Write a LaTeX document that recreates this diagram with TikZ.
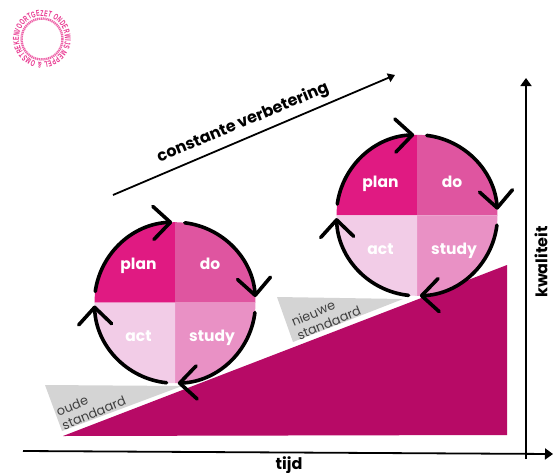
\documentclass[tikz,border=0pt]{standalone}
\usepackage{fontspec}
\setmainfont{Poppins}
\newfontfamily\logofont[FakeStretch=0.62]{Liberation Sans}
\usetikzlibrary{arrows.meta,decorations.text}
\definecolor{planc}{HTML}{E01A82}
\definecolor{doc}{HTML}{DF55A0}
\definecolor{studyc}{HTML}{E991C5}
\definecolor{actc}{HTML}{F2CCE7}
\definecolor{wedgec}{HTML}{B70A66}
\definecolor{greyc}{HTML}{D4D4D4}
\definecolor{logoc}{HTML}{E8308C}
\tikzset{
  x=1pt,y=-1pt,
  cyclearc/.style={line width=3.6pt,line cap=round,line join=round,-{Straight Barb[length=17pt,width=33pt,line width=3.6pt,round]}},
  qlabel/.style={text=white,font=\fontsize{15.5}{16}\selectfont\bfseries,inner sep=0pt},
  axisline/.style={line width=1.8pt,-{Triangle[length=8pt,width=11pt]}},
  stdlabel/.style={text=black!75,font=\fontsize{12.8}{15}\selectfont,align=left,inner sep=0pt,rotate=22.5},
  boldlabel/.style={text=black,font=\fontsize{16}{16}\selectfont\bfseries,inner sep=0pt},
}
% #1,#2 centre, #3 name suffix, #4 vertical offset of the upper labels
\newcommand{\pdcacycle}[4]{%
  \begin{scope}[shift={(#1,#2)}]
    \fill[planc] (0,0) -- (180:80.5pt) arc[start angle=180,end angle=90,radius=80.5pt] -- cycle;
    \fill[doc] (0,0) -- (90:80.5pt) arc[start angle=90,end angle=0,radius=80.5pt] -- cycle;
    \fill[studyc] (0,0) -- (0:80.5pt) arc[start angle=0,end angle=-90,radius=80.5pt] -- cycle;
    \fill[actc] (0,0) -- (-90:80.5pt) arc[start angle=-90,end angle=-180,radius=80.5pt] -- cycle;
    \node[qlabel,anchor=base] (plan#3) at (-36.5,#4+5) {plan};
    \node[qlabel,anchor=base] (do#3) at (35,#4+5) {do};
    \node[qlabel,anchor=base] (study#3) at (37,39) {study};
    \node[qlabel,anchor=base] (act#3) at (-36.5,39) {act};
    \draw[cyclearc] (172:80.5pt) arc[start angle=172,end angle=92,radius=80.5pt];
    \draw[cyclearc] (83:80.5pt) arc[start angle=83,end angle=4,radius=80.5pt];
    \draw[cyclearc] (-7:80.5pt) arc[start angle=-7,end angle=-88,radius=80.5pt];
    \draw[cyclearc] (-96:80.5pt) arc[start angle=-96,end angle=-178,radius=80.5pt];
  \end{scope}}
\begin{document}
\begin{tikzpicture}
\useasboundingbox (0,0) rectangle (560,472);
\fill[white] (0,0) rectangle (560,472);
% logo
\coordinate (logo) at (42,39);
\path[postaction={decorate},decoration={text along path,text align={fit to path},
  text={|\fontsize{8.5}{8.5}\logofont\bfseries\color{logoc}|VOORTGEZET ONDERWIJS MEPPEL {\&} OMSTREKEN }}]
  ([shift={(165:23pt)}]logo) arc[start angle=165,end angle=-195,radius=23pt];
\draw[logoc!75,line width=2.4pt,dash pattern=on 1.2pt off 0.7pt] (logo) circle[radius=20.5pt];
% wedge and standards
\fill[wedgec] (63,436) -- (507,265) -- (507,435) -- cycle;
\fill[greyc] (45,385) -- (62,431) -- (182,386) -- cycle;
\fill[greyc] (277,297) -- (293,342) -- (403,299) -- cycle;
\node[stdlabel] (oude) at (91,406) {oude\\standaard};
\node[stdlabel] (nieuwe) at (326,316) {nieuwe\\standaard};
% cycles
\pdcacycle{175}{302.7}{a}{-38}
\pdcacycle{417}{215.3}{b}{-33}
% improvement arrow
\coordinate (impA) at (113,195);
\coordinate (impB) at (395,75);
\draw[line width=1.8pt,-{Triangle[length=7pt,width=9pt]}] (impA) -- (impB);
\node[boldlabel,rotate=22.8] (verb) at (243,123) {constante verbetering};
% axes
\coordinate (xA) at (23,451);
\coordinate (xB) at (553,454);
\coordinate (yA) at (526,459);
\coordinate (yB) at (526,78);
\draw[axisline] (xA) -- (xB);
\draw[axisline] (yA) -- (yB);
\node[boldlabel] (tijd) at (289,465) {tijd};
\node[boldlabel,rotate=90] (kwal) at (541,262) {kwaliteit};
\end{tikzpicture}
\end{document}
